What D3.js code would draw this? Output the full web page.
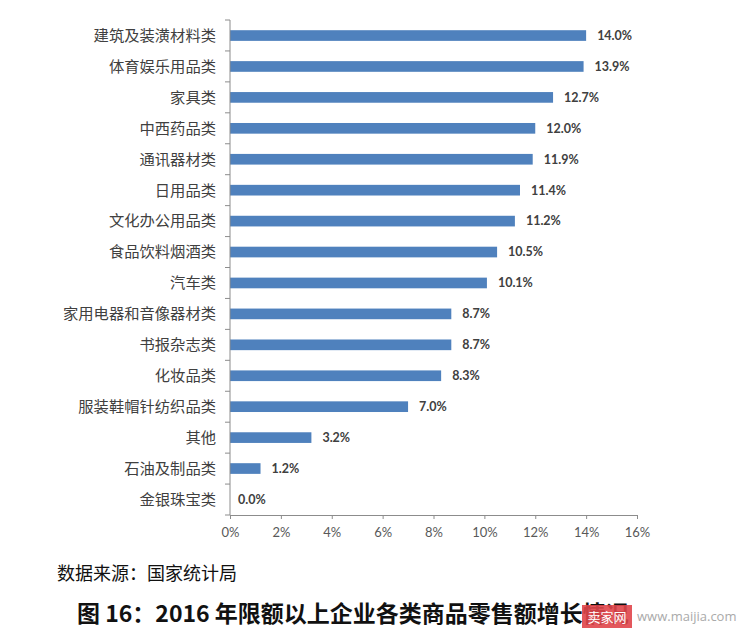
<!DOCTYPE html>
<html><head><meta charset="utf-8">
<script src="https://cdn.jsdelivr.net/npm/d3@7/dist/d3.min.js"></script>
<style>body{margin:0;background:#fff}svg{display:block}</style>
</head><body><svg id="c" width="750" height="636"></svg>
<script>
const categories = ["建筑及装潢材料类","体育娱乐用品类","家具类","中西药品类","通讯器材类","日用品类","文化办公用品类","食品饮料烟酒类","汽车类","家用电器和音像器材类","书报杂志类","化妆品类","服装鞋帽针纺织品类","其他","石油及制品类","金银珠宝类"];
const values = [14.0,13.9,12.7,12.0,11.9,11.4,11.2,10.5,10.1,8.7,8.7,8.3,7.0,3.2,1.2,0.0];
const xTicks = [0,2,4,6,8,10,12,14,16];
const sourceText = "数据来源：国家统计局";
const titleText = "图 16：2016 年限额以上企业各类商品零售额增长情况";

const svg = d3.select("#c");
const x = d3.scaleLinear().domain([0,16]).range([230,637]);
const y = d3.scaleBand().domain(categories).range([20,515]).paddingInner(0.655).paddingOuter(0.33);
const cjk = "'Noto Sans CJK SC','Noto Sans',sans-serif";
const latin = "Lato,'Open Sans',sans-serif";

// bars
svg.append("g").selectAll("rect").data(values).join("rect")
  .attr("x", x(0)).attr("y", (d,i)=>y(categories[i]))
  .attr("width", d=>x(d)-x(0)).attr("height", y.bandwidth())
  .attr("fill","#4f81bd");

// value labels
svg.append("g").selectAll("text").data(values).join("text")
  .attr("x", d=>x(d)+ (d===0?8:11)).attr("y",(d,i)=>y(categories[i])+y.bandwidth()/2)
  .attr("dy","0.35em").attr("font-family",latin).attr("font-weight","bold")
  .attr("font-size","12.5px").attr("fill","#404040")
  .text(d=>d.toFixed(1)+"%");

// y axis
const yAxisG = svg.append("g").attr("transform",`translate(${x(0)},0)`);
yAxisG.append("line").attr("x1",0).attr("x2",0).attr("y1",20).attr("y2",515).attr("stroke","#8c8c8c");
const step = (515-20)/categories.length;
yAxisG.selectAll("line.t").data(d3.range(categories.length+1)).join("line").attr("class","t")
  .attr("x1",-5).attr("x2",0).attr("y1",i=>20+i*step).attr("y2",i=>20+i*step).attr("stroke","#8c8c8c");
svg.append("g").selectAll("text").data(categories).join("text")
  .attr("x",216).attr("y",d=>y(d)+y.bandwidth()/2).attr("dy","0.35em")
  .attr("text-anchor","end").attr("font-family",cjk).attr("font-size","15.3px").attr("fill","#404040")
  .text(d=>d);

// x axis
const xAxis = d3.axisBottom(x).tickValues(xTicks).tickFormat(d=>d+"%").tickSize(4).tickSizeOuter(0);
const xg = svg.append("g").attr("transform","translate(0,515)").call(xAxis);
xg.select(".domain").attr("stroke","#8c8c8c");
xg.selectAll(".tick line").attr("stroke","#8c8c8c");
xg.selectAll(".tick text").attr("font-family",latin).attr("font-size","13px").attr("fill","#595959").attr("y",13);

// source
svg.append("text").attr("x",57).attr("y",574).attr("dy","0.35em")
  .attr("font-family",cjk).attr("font-size","18px").attr("fill","#111").text(sourceText);
// title
svg.append("text").attr("x",77).attr("y",614).attr("dy","0.35em")
  .attr("font-family",cjk).attr("font-weight","bold").attr("font-size","23px").attr("fill","#111").text(titleText);

// watermark
svg.append("rect").attr("x",582).attr("y",605).attr("width",50).attr("height",23).attr("fill","#e0454a").attr("opacity",0.9);
svg.append("text").attr("x",607).attr("y",617).attr("dy","0.35em").attr("text-anchor","middle")
  .attr("font-family",cjk).attr("font-size","13px").attr("fill","#fff").text("卖家网");
svg.append("text").attr("x",637).attr("y",616).attr("dy","0.35em")
  .attr("font-family","'Open Sans',sans-serif").attr("font-size","13px").attr("fill","#aaa").text("www.maijia.com");
</script></body></html>
